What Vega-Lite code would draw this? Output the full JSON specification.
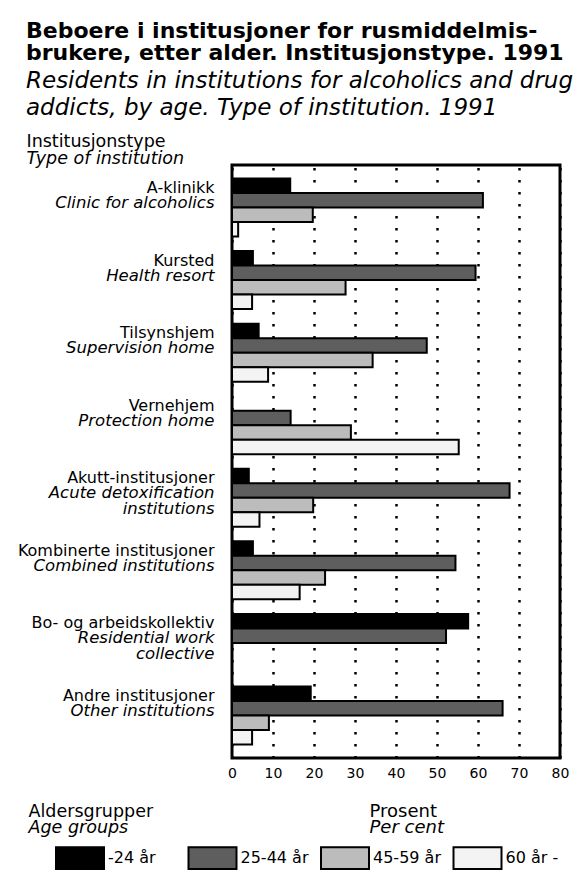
{
  "$schema": "https://vega.github.io/schema/vega-lite/v6.json",
  "autosize": "none",
  "padding": {"left": 232, "top": 165, "right": 25, "bottom": 120},
  "width": 328,
  "height": 593,
  "background": "white",
  "title": {
    "text": ["Beboere i institusjoner for rusmiddelmis-", "brukere, etter alder. Institusjonstype. 1991"],
    "subtitle": ["Residents in institutions for alcoholics and drug", "addicts, by age.  Type of institution. 1991"],
    "anchor": "start",
    "frame": "group",
    "dx": -206,
    "offset": 11,
    "font": "DejaVu Sans",
    "fontSize": 22,
    "fontWeight": "bold",
    "lineHeight": 22.7,
    "color": "black",
    "subtitleFont": "DejaVu Sans",
    "subtitleFontSize": 23,
    "subtitleFontStyle": "italic",
    "subtitleFontWeight": "normal",
    "subtitleLineHeight": 27.3,
    "subtitlePadding": 5,
    "subtitleColor": "black"
  },
  "data": {
    "values": [
      {"inst": "A-klinikk", "age": "-24 år", "pct": 14.2},
      {"inst": "A-klinikk", "age": "25-44 år", "pct": 61.2},
      {"inst": "A-klinikk", "age": "45-59 år", "pct": 19.7},
      {"inst": "A-klinikk", "age": "60 år -", "pct": 1.5},
      {"inst": "Kursted", "age": "-24 år", "pct": 5.1},
      {"inst": "Kursted", "age": "25-44 år", "pct": 59.4},
      {"inst": "Kursted", "age": "45-59 år", "pct": 27.7},
      {"inst": "Kursted", "age": "60 år -", "pct": 4.9},
      {"inst": "Tilsynshjem", "age": "-24 år", "pct": 6.5},
      {"inst": "Tilsynshjem", "age": "25-44 år", "pct": 47.5},
      {"inst": "Tilsynshjem", "age": "45-59 år", "pct": 34.3},
      {"inst": "Tilsynshjem", "age": "60 år -", "pct": 8.8},
      {"inst": "Vernehjem", "age": "25-44 år", "pct": 14.3},
      {"inst": "Vernehjem", "age": "45-59 år", "pct": 29.0},
      {"inst": "Vernehjem", "age": "60 år -", "pct": 55.3},
      {"inst": "Akutt-institusjoner", "age": "-24 år", "pct": 4.1},
      {"inst": "Akutt-institusjoner", "age": "25-44 år", "pct": 67.7},
      {"inst": "Akutt-institusjoner", "age": "45-59 år", "pct": 19.8},
      {"inst": "Akutt-institusjoner", "age": "60 år -", "pct": 6.7},
      {"inst": "Kombinerte institusjoner", "age": "-24 år", "pct": 5.1},
      {"inst": "Kombinerte institusjoner", "age": "25-44 år", "pct": 54.5},
      {"inst": "Kombinerte institusjoner", "age": "45-59 år", "pct": 22.7},
      {"inst": "Kombinerte institusjoner", "age": "60 år -", "pct": 16.5},
      {"inst": "Bo- og arbeidskollektiv", "age": "-24 år", "pct": 57.6},
      {"inst": "Bo- og arbeidskollektiv", "age": "25-44 år", "pct": 52.2},
      {"inst": "Andre institusjoner", "age": "-24 år", "pct": 19.2},
      {"inst": "Andre institusjoner", "age": "25-44 år", "pct": 66.0},
      {"inst": "Andre institusjoner", "age": "45-59 år", "pct": 9.0},
      {"inst": "Andre institusjoner", "age": "60 år -", "pct": 4.9}
    ]
  },
  "config": {
    "view": {"stroke": "black", "strokeWidth": 3},
    "axis": {
      "labelFont": "DejaVu Sans",
      "titleFont": "DejaVu Sans",
      "labelColor": "black",
      "titleColor": "black",
      "domain": false,
      "ticks": false,
      "tickSize": 0,
      "grid": false,
      "titleFontWeight": "normal"
    }
  },
  "resolve": {"axis": {"x": "independent", "y": "independent"}},
  "layer": [
    {
      "mark": {"type": "bar", "stroke": "black", "strokeWidth": 2},
      "encoding": {
        "x": {
          "field": "pct", "type": "quantitative",
          "scale": {"domain": [0, 80], "nice": false},
          "axis": {
            "orient": "bottom",
            "values": [0, 10, 20, 30, 40, 50, 60, 70, 80],
            "labelFontSize": 14,
            "labelBaseline": "alphabetic",
            "labelPadding": 19,
            "labelFlush": false,
            "grid": true,
            "gridDash": [2.5, 9.5],
            "gridWidth": 2.5,
            "gridColor": "black",
            "gridOpacity": 1,
            "title": "Prosent",
            "titleFontSize": 18,
            "titleAlign": "left",
            "titleBaseline": "alphabetic",
            "titleX": 137,
            "titleY": 58.5
          }
        },
        "y": {
          "field": "inst", "type": "nominal",
          "sort": ["A-klinikk", "Kursted", "Tilsynshjem", "Vernehjem", "Akutt-institusjoner", "Kombinerte institusjoner", "Bo- og arbeidskollektiv", "Andre institusjoner"],
          "scale": {"paddingInner": 0.2, "paddingOuter": 0.186},
          "axis": {
            "orient": "left",
            "labelFontSize": 16,
            "labelAlign": "right",
            "labelBaseline": "alphabetic",
            "labelOffset": -14.5,
            "labelPadding": 18,
            "labelLimit": 0,
            "title": "Institusjonstype",
            "titleFontSize": 17.5,
            "titleAngle": 0,
            "titleAlign": "left",
            "titleBaseline": "alphabetic",
            "titleX": -206,
            "titleY": -18.5
          }
        },
        "yOffset": {
          "field": "age", "type": "nominal",
          "sort": ["-24 år", "25-44 år", "45-59 år", "60 år -"],
          "scale": {"paddingInner": 0, "paddingOuter": 0}
        },
        "fill": {
          "field": "age", "type": "nominal",
          "sort": ["-24 år", "25-44 år", "45-59 år", "60 år -"],
          "scale": {"domain": ["-24 år", "25-44 år", "45-59 år", "60 år -"], "range": ["#000000", "#5e5e5e", "#bcbcbc", "#f3f3f3"]},
          "legend": {
            "orient": "none",
            "legendX": -177,
            "legendY": 668,
            "direction": "horizontal",
            "columns": 4,
            "gridAlign": "all",
            "title": null,
            "padding": 0,
            "symbolType": "M-1,-0.45H1V0.45H-1Z",
            "symbolSize": 2304,
            "symbolStrokeColor": "black",
            "symbolStrokeWidth": 2,
            "symbolOpacity": 1,
            "labelFont": "DejaVu Sans",
            "labelFontSize": 16,
            "labelColor": "black",
            "labelOffset": 3,
            "columnPadding": 8.5
          }
        }
      }
    },
    {
      "mark": {"type": "bar", "opacity": 0},
      "encoding": {
        "x": {
          "field": "pct", "type": "quantitative",
          "axis": {
            "orient": "bottom",
            "labels": false,
            "grid": false,
            "title": "Per cent",
            "titleFontSize": 18,
            "titleFontStyle": "italic",
            "titleAlign": "left",
            "titleBaseline": "alphabetic",
            "titleX": 137,
            "titleY": 74
          }
        },
        "y": {
          "field": "inst", "type": "nominal",
          "sort": ["A-klinikk", "Kursted", "Tilsynshjem", "Vernehjem", "Akutt-institusjoner", "Kombinerte institusjoner", "Bo- og arbeidskollektiv", "Andre institusjoner"],
          "axis": {
            "orient": "left",
            "labelExpr": "{'A-klinikk': ['Clinic for alcoholics'], 'Kursted': ['Health resort'], 'Tilsynshjem': ['Supervision home'], 'Vernehjem': ['Protection home'], 'Akutt-institusjoner': ['Acute detoxification', 'institutions'], 'Kombinerte institusjoner': ['Combined institutions'], 'Bo- og arbeidskollektiv': ['Residential work', 'collective'], 'Andre institusjoner': ['Other institutions']}[datum.value]",
            "labelFontSize": 16.5,
            "labelFontStyle": "italic",
            "labelAlign": "right",
            "labelBaseline": "alphabetic",
            "labelOffset": 0.5,
            "labelLineHeight": 15.5,
            "labelPadding": 18,
            "labelLimit": 0,
            "title": "Type of institution",
            "titleFontSize": 17.5,
            "titleFontStyle": "italic",
            "titleAngle": 0,
            "titleAlign": "left",
            "titleBaseline": "alphabetic",
            "titleX": -206,
            "titleY": -2
          }
        }
      }
    },
    {
      "mark": {"type": "bar", "opacity": 0},
      "encoding": {
        "x": {
          "field": "pct", "type": "quantitative",
          "axis": {
            "orient": "bottom",
            "labels": false,
            "grid": false,
            "title": "Aldersgrupper",
            "titleFontSize": 17.5,
            "titleAlign": "left",
            "titleBaseline": "alphabetic",
            "titleX": -204,
            "titleY": 58.5
          }
        },
        "y": {
          "field": "inst", "type": "nominal",
          "sort": ["A-klinikk", "Kursted", "Tilsynshjem", "Vernehjem", "Akutt-institusjoner", "Kombinerte institusjoner", "Bo- og arbeidskollektiv", "Andre institusjoner"],
          "axis": null
        }
      }
    },
    {
      "mark": {"type": "bar", "opacity": 0},
      "encoding": {
        "x": {
          "field": "pct", "type": "quantitative",
          "axis": {
            "orient": "bottom",
            "labels": false,
            "grid": false,
            "title": "Age groups",
            "titleFontSize": 17.5,
            "titleFontStyle": "italic",
            "titleAlign": "left",
            "titleBaseline": "alphabetic",
            "titleX": -204,
            "titleY": 74
          }
        },
        "y": {
          "field": "inst", "type": "nominal",
          "sort": ["A-klinikk", "Kursted", "Tilsynshjem", "Vernehjem", "Akutt-institusjoner", "Kombinerte institusjoner", "Bo- og arbeidskollektiv", "Andre institusjoner"],
          "axis": null
        }
      }
    }
  ]
}
